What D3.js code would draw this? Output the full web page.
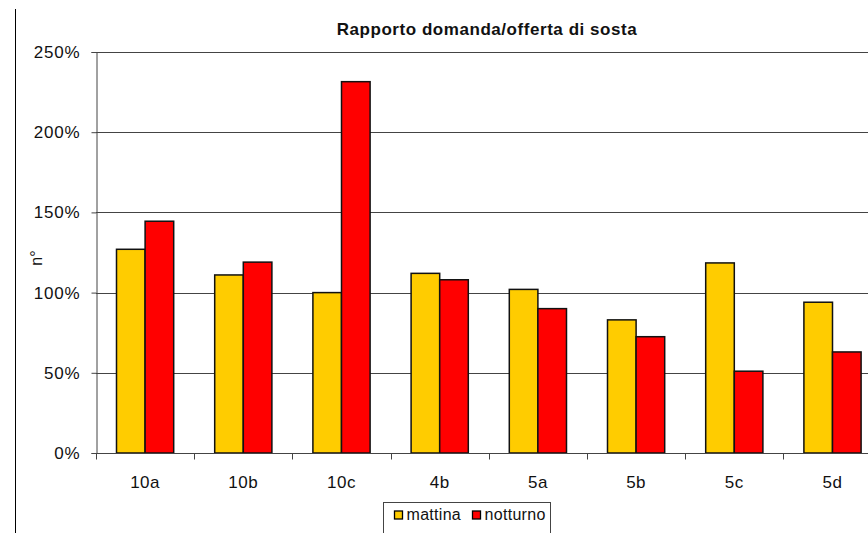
<!DOCTYPE html>
<html>
<head>
<meta charset="utf-8">
<script src="https://cdn.jsdelivr.net/npm/d3@7"></script>
<style>
body{margin:0;background:#fff;font-family:"Liberation Sans",Arial,sans-serif;}
svg{display:block;}
</style>
</head>
<body>
<div id="chart"></div>
<script>
var categories = ["10a","10b","10c","4b","5a","5b","5c","5d"]
var mattina = [127,111,100,112,102,83,118.5,94]
var notturno = [144.5,119,231.5,108,90,72.5,51,63]
var seriesNames = ["mattina","notturno"]
var yTicks = [0,50,100,150,200,250]

var colors = {mattina:"#ffcc00",notturno:"#ff0000"}

var width = 868, height = 533
var margin = {top: 52, left: 96, bottom: 80}
var plotW = 98.2*8
var plotH = 401

var svg = d3.select("#chart").append("svg").attr("width",width).attr("height",height)

// outer frame line on the left
svg.append("line").attr("x1",15.5).attr("x2",15.5).attr("y1",9).attr("y2",height)
	.attr("stroke","#000").attr("stroke-width",1)

var x = d3.scaleBand().domain(categories).range([margin.left,margin.left+plotW]).paddingInner(0).paddingOuter(0)
var x1 = d3.scaleBand().domain(seriesNames).range([20.5,x.bandwidth()-20.5])
var y = d3.scaleLinear().domain([0,250]).range([margin.top+plotH,margin.top])

var g = svg.append("g")

// gridlines
g.selectAll(".grid").data(yTicks.filter(function(d){return d>0}))
	.enter().append("line")
	.attr("x1",margin.left).attr("x2",width)
	.attr("y1",function(d){return Math.round(y(d))+0.5})
	.attr("y2",function(d){return Math.round(y(d))+0.5})
	.attr("stroke","#444").attr("stroke-width",1)

var rows = categories.map(function(c,i){return {cat:c,mattina:mattina[i],notturno:notturno[i]}})

var groups = g.selectAll(".grp").data(rows).enter().append("g")
	.attr("transform",function(d){return "translate("+x(d.cat)+",0)"})

groups.selectAll("rect").data(function(d){
		return seriesNames.map(function(s){return {key:s,value:d[s]}})
	})
	.enter().append("rect")
	.attr("x",function(d){return x1(d.key)})
	.attr("width",x1.bandwidth())
	.attr("y",function(d){return y(d.value)})
	.attr("height",function(d){return y(0)-y(d.value)})
	.attr("fill",function(d){return colors[d.key]})
	.attr("stroke","#111").attr("stroke-width",1.5)

// y axis
var yAxis = d3.axisLeft(y).tickValues(yTicks).tickSize(5).tickPadding(11)
	.tickFormat(function(d){return d+"%"})
var ya = svg.append("g").attr("transform","translate("+(margin.left+0.5)+",0)").call(yAxis)
ya.select(".domain").attr("stroke","#444")
ya.selectAll(".tick line").attr("stroke","#444")
ya.selectAll("text").attr("font-size","17px").attr("fill","#111")
	.attr("letter-spacing","0.8px")
	.attr("font-family","Liberation Sans, Arial, sans-serif")

// x axis
var xa = svg.append("g").attr("transform","translate(0,"+(Math.round(y(0))+0.5)+")")
xa.append("line").attr("x1",margin.left).attr("x2",width).attr("stroke","#444")
xa.selectAll(".tk").data(categories).enter().append("line")
	.attr("x1",function(d){return Math.round(x(d))+0.5})
	.attr("x2",function(d){return Math.round(x(d))+0.5})
	.attr("y1",0).attr("y2",6).attr("stroke","#444")
xa.selectAll(".lbl").data(categories).enter().append("text")
	.attr("x",function(d){return x(d)+x.bandwidth()/2})
	.attr("y",34)
	.attr("text-anchor","middle")
	.attr("font-size","17px").attr("fill","#111")
	.attr("letter-spacing","0.5px")
	.text(function(d){return d})

// title
svg.append("text").attr("x",487).attr("y",35).attr("text-anchor","middle")
	.attr("font-size","17px").attr("font-weight","bold").attr("fill","#111")
	.attr("letter-spacing","0.55px")
	.text("Rapporto domanda/offerta di sosta")

// y label
svg.append("text").attr("transform","translate(42,258) rotate(-90)")
	.attr("text-anchor","middle").attr("font-size","16px").attr("fill","#111")
	.text("n°")

// legend
var leg = svg.append("g").attr("transform","translate(383.5,502.5)")
leg.append("rect").attr("width",167).attr("height",40).attr("fill","#fff").attr("stroke","#444")
var legX = [11,89]
var li = leg.selectAll(".li").data(seriesNames).enter().append("g")
	.attr("transform",function(d,i){return "translate("+legX[i]+",0)"})
li.append("rect").attr("x",0).attr("y",8.5).attr("width",8).attr("height",8)
	.attr("fill",function(d){return colors[d]}).attr("stroke","#000").attr("stroke-width",1.3)
li.append("text").attr("x",12).attr("y",17).attr("font-size","16px").attr("fill","#111")
	.attr("letter-spacing","0.3px")
	.text(function(d){return d})
</script>
</body>
</html>
